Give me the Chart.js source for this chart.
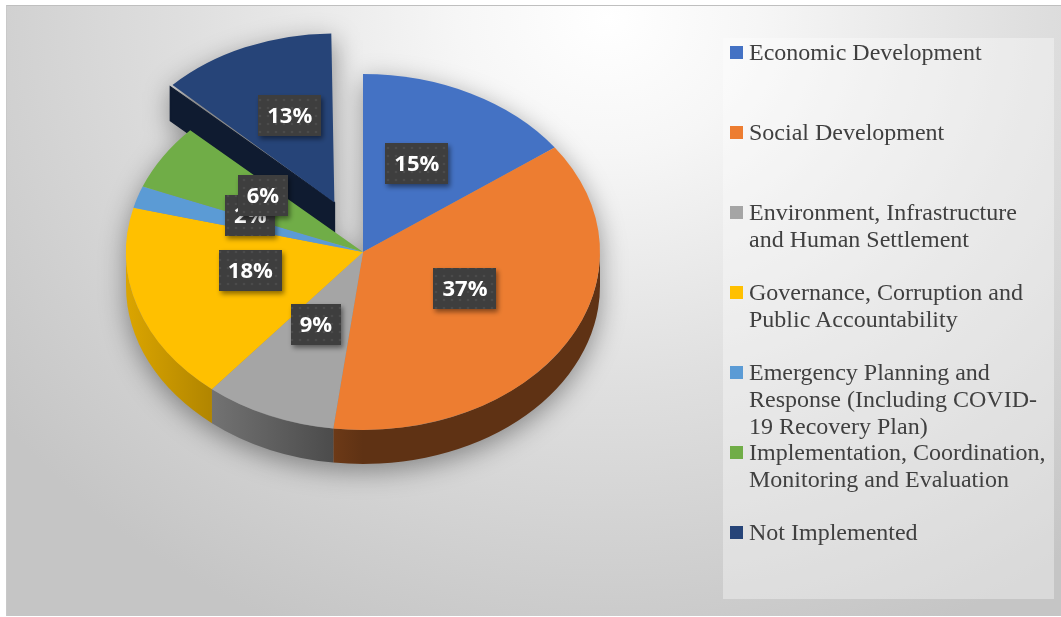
<!DOCTYPE html>
<html lang="en">
<head>
    <meta charset="UTF-8">
    <title>Implementation by Pillar</title>
    <style>
        html, body {
            margin: 0;
            padding: 0;
            background-color: #fff;
        }
        body {
            position: relative;
            width: 1061px;
            height: 617px;
            overflow: hidden;
        }
        #frame {
            position: absolute;
            left: 6px;
            top: 5px;
            width: 1055px;
            height: 611px;
            box-sizing: border-box;
            border-top: 1px solid #bfbfbf;
            border-left: 1px solid #c9c9c9;
            background: radial-gradient(ellipse 72% 110% at 57% 2%, #ffffff 0%, #f6f6f6 20%, #dfdfdf 55%, #c5c5c5 100%);
        }
        #pie {
            position: absolute;
            left: 0;
            top: 0;
        }
        #legend {
            position: absolute;
            left: 723px;
            top: 38px;
            width: 331px;
            height: 561px;
            box-sizing: border-box;
            padding-top: 1px;
            background-color: rgba(255, 255, 255, 0.35);
            font-family: "Liberation Serif", "Times New Roman", serif;
            font-size: 24px;
            line-height: 27px;
            color: #404040;
        }
        .item {
            display: flex;
            height: 80px;
            margin-left: 7px;
        }
        .box {
            flex: none;
            width: 13px;
            height: 13px;
            margin-top: 7px;
            margin-right: 6px;
        }
        .text {
            white-space: nowrap;
        }
    </style>
    <script src="https://cdn.jsdelivr.net/npm/chart.js"></script>
</head>
<body>
    <div id="frame"></div>
    <canvas id="pie" width="1061" height="617"></canvas>
    <div id="legend"></div>

    <script>
        // Pillars (legend lines as Excel wraps them)
        const categories = [
            ['Economic Development'],
            ['Social Development'],
            ['Environment, Infrastructure', 'and Human Settlement'],
            ['Governance, Corruption and', 'Public Accountability'],
            ['Emergency Planning and', 'Response (Including COVID-', '19 Recovery Plan)'],
            ['Implementation, Coordination,', 'Monitoring and Evaluation'],
            ['Not Implemented']
        ];
        // share of actions, in %
        const shares = [15, 37, 9, 18, 2, 6, 13];
        const colors = ['#4472C4', '#ED7D31', '#A5A5A5', '#FFC000', '#5B9BD5', '#70AD47', '#264478'];
        // the "Not Implemented" slice is pulled out
        const pulled = [0, 0, 0, 0, 0, 0, 288];

        const TILT = 0.751;      // vertical squash of the disc
        const DEPTH = 34;        // thickness of the disc, px on screen
        const RADIUS = 237;
        const BACK_RADIUS = 225; // a pulled slice sits farther back, so it looks a bit smaller

        function shade(hex, f) {
            const n = parseInt(hex.slice(1), 16);
            const r = Math.round(((n >> 16) & 255) * f);
            const g = Math.round(((n >> 8) & 255) * f);
            const b = Math.round((n & 255) * f);
            return 'rgb(' + r + ',' + g + ',' + b + ')';
        }

        // ArcElement grows a pulled slice by offset/4 * (1 - sin(angle))
        function growth(arc) {
            const off = (arc.options.offset || 0) / 4;
            const circ = arc.endAngle - arc.startAngle;
            return off * (1 - Math.sin(Math.min(Math.PI, circ)));
        }

        // where ArcElement really draws a slice once its offset is applied
        function placed(arc) {
            const off = (arc.options.offset || 0) / 4;
            const mid = (arc.startAngle + arc.endAngle) / 2;
            return {
                x: arc.x + Math.cos(mid) * off,
                y: arc.y + Math.sin(mid) * off,
                r: arc.outerRadius + growth(arc),
                mid: mid
            };
        }

        function tilt(ctx, cx, cy) {
            ctx.translate(cx, cy);
            ctx.scale(1, TILT);
            ctx.translate(-cx, -cy);
        }

        // dotted fill used behind the data labels
        const tile = document.createElement('canvas');
        tile.width = 8;
        tile.height = 8;
        const tc = tile.getContext('2d');
        tc.fillStyle = '#3e3e3e';
        tc.fillRect(0, 0, 8, 8);
        tc.fillStyle = '#4b4b4b';
        tc.beginPath();
        tc.arc(4, 4, 1.3, 0, Math.PI * 2);
        tc.fill();

        const pie3d = {
            id: 'pie3d',
            afterDatasetsUpdate(chart) {
                chart.getDatasetMeta(0).data.forEach(arc => {
                    if (arc.options.offset > 0) {
                        arc.outerRadius = BACK_RADIUS - growth(arc);
                    }
                });
            },
            beforeDatasetsDraw(chart) {
                const ctx = chart.ctx;
                const arcs = chart.getDatasetMeta(0).data;
                const cx = arcs[0].x, cy = arcs[0].y;
                const d = DEPTH / TILT;

                // silhouette of the whole body, blurred into a soft drop shadow
                const off = document.createElement('canvas');
                off.width = chart.width;
                off.height = chart.height;
                const oc = off.getContext('2d');
                tilt(oc, cx, cy);
                oc.fillStyle = '#000';
                arcs.forEach(arc => {
                    const p = placed(arc);
                    [0, d].forEach(dy => {
                        oc.beginPath();
                        oc.moveTo(p.x, p.y + dy);
                        oc.arc(p.x, p.y + dy, p.r, arc.startAngle, arc.endAngle);
                        oc.closePath();
                        oc.fill();
                    });
                    oc.beginPath();
                    oc.arc(p.x, p.y, p.r, arc.startAngle, arc.endAngle);
                    oc.arc(p.x, p.y + d, p.r, arc.endAngle, arc.startAngle, true);
                    oc.closePath();
                    oc.fill();
                });
                ctx.save();
                ctx.filter = 'blur(13px)';
                ctx.globalAlpha = 0.38;
                ctx.drawImage(off, 0, 7);
                ctx.restore();

                // side walls, drawn in the squashed space; top faces come after
                ctx.save();
                tilt(ctx, cx, cy);
                arcs.forEach((arc, i) => {
                    const p = placed(arc);
                    const wall = ctx.createLinearGradient(cx - RADIUS, 0, cx, 0);
                    wall.addColorStop(0, shade(colors[i], 0.86));
                    wall.addColorStop(1, shade(colors[i], 0.4));

                    // front rim: the part of the arc in the lower half
                    const s = Math.max(arc.startAngle, 0);
                    const e = Math.min(arc.endAngle, Math.PI);
                    if (e > s) {
                        ctx.beginPath();
                        ctx.arc(p.x, p.y, p.r, s, e);
                        ctx.arc(p.x, p.y + d, p.r, e, s, true);
                        ctx.closePath();
                        ctx.fillStyle = wall;
                        ctx.fill();
                    }

                    // cut faces only show on a pulled-out slice
                    if (arc.options.offset > 0) {
                        [[arc.startAngle, arc.startAngle - Math.PI / 2],
                         [arc.endAngle, arc.endAngle + Math.PI / 2]].forEach(([a, normal]) => {
                            if (Math.sin(normal) <= 0.05) return;
                            const ex = p.x + Math.cos(a) * p.r;
                            const ey = p.y + Math.sin(a) * p.r;
                            ctx.beginPath();
                            ctx.moveTo(p.x, p.y);
                            ctx.lineTo(ex, ey);
                            ctx.lineTo(ex, ey + d);
                            ctx.lineTo(p.x, p.y + d);
                            ctx.closePath();
                            ctx.fillStyle = shade(colors[i], 0.4);
                            ctx.strokeStyle = ctx.fillStyle;
                            ctx.lineWidth = 1.5;
                            ctx.fill();
                            ctx.stroke();
                        });
                    }
                });
                // leave the squash on for the slices themselves
            },
            afterDatasetsDraw(chart) {
                const ctx = chart.ctx;
                ctx.restore();

                const arcs = chart.getDatasetMeta(0).data;
                const cy = arcs[0].y;
                const pattern = ctx.createPattern(tile, 'repeat');
                ctx.save();
                ctx.font = 'bold 22px "Open Sans"';
                ctx.textAlign = 'center';
                ctx.textBaseline = 'middle';
                arcs.forEach((arc, i) => {
                    const p = placed(arc);
                    const lx = p.x + Math.cos(p.mid) * p.r * 0.5;
                    const ly = cy + (p.y - cy + Math.sin(p.mid) * p.r * 0.5) * TILT - 9;
                    const label = shares[i] + '%';
                    const w = Math.round(ctx.measureText(label).width + 18);
                    const h = 41;
                    ctx.save();
                    ctx.shadowColor = 'rgba(0, 0, 0, 0.45)';
                    ctx.shadowBlur = 5;
                    ctx.shadowOffsetX = 2;
                    ctx.shadowOffsetY = 3;
                    ctx.fillStyle = pattern;
                    ctx.fillRect(Math.round(lx - w / 2), Math.round(ly - h / 2), w, h);
                    ctx.restore();
                    ctx.fillStyle = '#ffffff';
                    ctx.fillText(label, lx, ly + 1);
                });
                ctx.restore();
            }
        };

        new Chart(document.getElementById('pie'), {
            type: 'pie',
            data: {
                labels: categories,
                datasets: [{
                    data: shares,
                    backgroundColor: colors,
                    borderWidth: 0,
                    offset: pulled,
                    hoverOffset: 0,
                    radius: RADIUS,
                    clip: false
                }]
            },
            options: {
                responsive: false,
                animation: false,
                events: [],
                layout: {
                    padding: { left: 0, top: 0, right: 335, bottom: 113 }
                },
                plugins: {
                    legend: { display: false },
                    tooltip: { enabled: false }
                }
            },
            plugins: [pie3d]
        });

        // legend on the right, built from the same arrays
        const legend = document.getElementById('legend');
        categories.forEach((lines, i) => {
            const item = document.createElement('div');
            item.className = 'item';
            const box = document.createElement('span');
            box.className = 'box';
            box.style.backgroundColor = colors[i];
            const text = document.createElement('span');
            text.className = 'text';
            text.innerHTML = lines.join('<br>');
            item.appendChild(box);
            item.appendChild(text);
            legend.appendChild(item);
        });
    </script>
</body>
</html>
